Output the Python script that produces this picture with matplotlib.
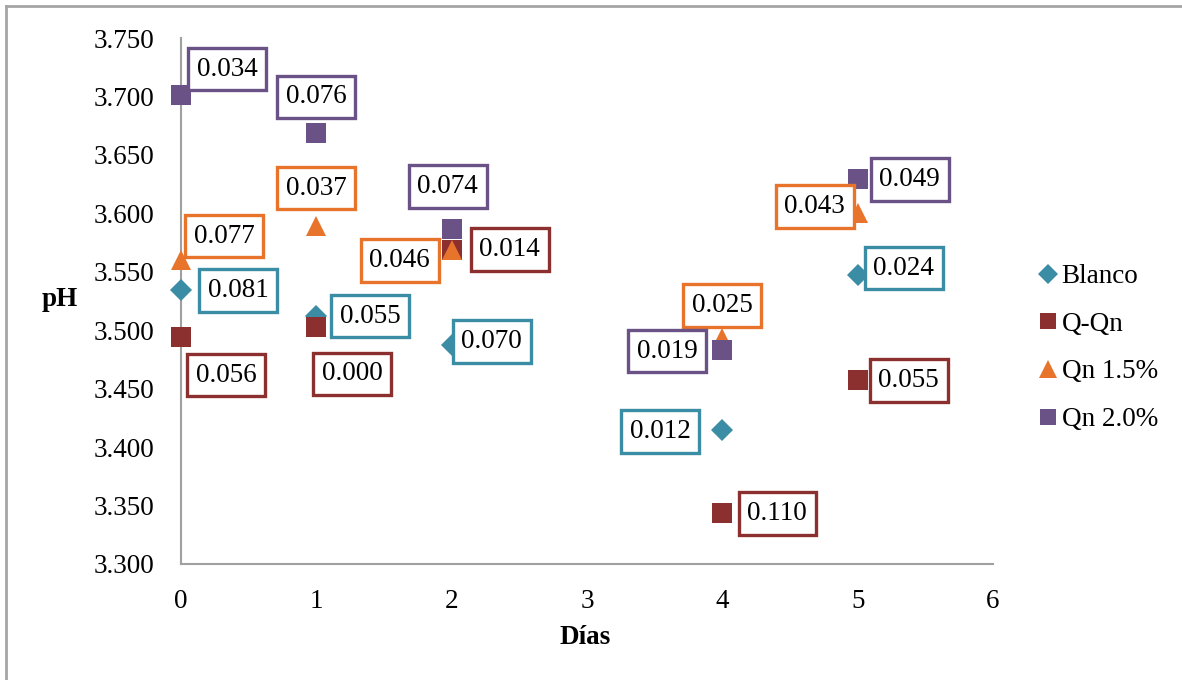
import matplotlib
matplotlib.use("Agg")
import matplotlib.pyplot as plt
from matplotlib.lines import Line2D

plt.rcParams['font.family'] = ['Liberation Serif', 'DejaVu Serif']

# Días de almacenamiento
dias = [0, 1, 2, 4, 5]

# pH medio por tratamiento
ph_blanco = [3.534, 3.512, 3.487, 3.415, 3.547]
ph_qqn    = [3.494, 3.503, 3.569, 3.344, 3.457]
ph_qn15   = [3.560, 3.589, 3.569, 3.493, 3.600]
ph_qn20   = [3.701, 3.669, 3.587, 3.483, 3.629]

# Desviación estándar mostrada en cada punto
de_blanco = ["0.081", "0.055", "0.070", "0.012", "0.024"]
de_qqn    = ["0.056", "0.000", "0.014", "0.110", "0.055"]
de_qn15   = ["0.077", "0.037", "0.046", "0.025", "0.043"]
de_qn20   = ["0.034", "0.076", "0.074", "0.019", "0.049"]

series_names = ["Blanco", "Q-Qn", "Qn 1.5%", "Qn 2.0%"]
yticks = [3.300, 3.350, 3.400, 3.450, 3.500, 3.550, 3.600, 3.650, 3.700, 3.750]
xticks = [0, 1, 2, 3, 4, 5, 6]

colors = ['#3A8DA5', '#8B2F2F', '#E8732A', '#6A5287']
markers = ['D', 's', '^', 's']
msizes = [11.5, 13.7, 14.5, 13.7]

FS = 19.5

# label box offsets (pixels) relative to each point
offsets = [
    [(57, 0), (54, 0), (40, 4), (-62, -2), (46, 7)],
    [(45, -38), (36, -47), (58, 0), (55, -1), (51, 0)],
    [(43, 24), (0, 38), (-52, -11), (0, 33), (-43, 7)],
    [(46, 26), (0, 36), (-4, 42), (-55, -1), (52, 0)],
]

fig = plt.figure(figsize=(11.82, 6.8), dpi=100)
ax = fig.add_axes([0.1531, 0.1706, 0.6870, 0.7735])

all_y = [ph_blanco, ph_qqn, ph_qn15, ph_qn20]
all_lab = [de_blanco, de_qqn, de_qn15, de_qn20]

for name, ys, c, m, ms in zip(series_names, all_y, colors, markers, msizes):
    ax.plot(dias, ys, linestyle='none', marker=m, markersize=ms, color=c,
            markeredgewidth=0, label=name, zorder=3, clip_on=False)

for ys, labs, c, offs in zip(all_y, all_lab, colors, offsets):
    for x, y, lab, off in zip(dias, ys, labs, offs):
        ax.annotate(lab, (x, y), xytext=off, textcoords='offset pixels',
                    ha='center', va='center', fontsize=FS, zorder=4,
                    annotation_clip=False,
                    bbox=dict(boxstyle='square,pad=0.32', fc='white',
                              ec=c, lw=2.4))

ax.set_xlim(0, 6)
ax.set_ylim(3.300, 3.750)
ax.set_xticks(xticks)
ax.set_yticks(yticks)
ax.set_yticklabels([f"{v:.3f}" for v in yticks])
ax.tick_params(axis='both', length=0, labelsize=FS)
ax.tick_params(axis='y', pad=19)
ax.tick_params(axis='x', pad=18)
for s in ['top', 'right']:
    ax.spines[s].set_visible(False)
for s in ['left', 'bottom']:
    ax.spines[s].set_color('#A0A0A0')
    ax.spines[s].set_linewidth(1.5)

fig.text(60 / 1182, 1 - 300 / 680, 'pH', fontsize=FS, fontweight='bold',
         ha='center', va='center')
fig.text(585 / 1182, 1 - 637 / 680, 'Días', fontsize=FS, fontweight='bold',
         ha='center', va='center')

leg = fig.legend(loc='upper left', bbox_to_anchor=(1040 / 1182, 1 - 264 / 680),
                 frameon=False, fontsize=FS, handlelength=0.6,
                 handletextpad=0.2, labelspacing=0.84, borderpad=0,
                 borderaxespad=0, markerscale=0.85)

# chart frame: top and left edges
x_left = 6 / 1182
y_top = 1 - 6 / 680
fig.add_artist(Line2D([x_left, 1.0], [y_top, y_top], transform=fig.transFigure,
                      color='#A6A6A6', lw=2))
fig.add_artist(Line2D([x_left, x_left], [0.0, y_top], transform=fig.transFigure,
                      color='#A6A6A6', lw=2))

fig.savefig('out.png', dpi=100)
